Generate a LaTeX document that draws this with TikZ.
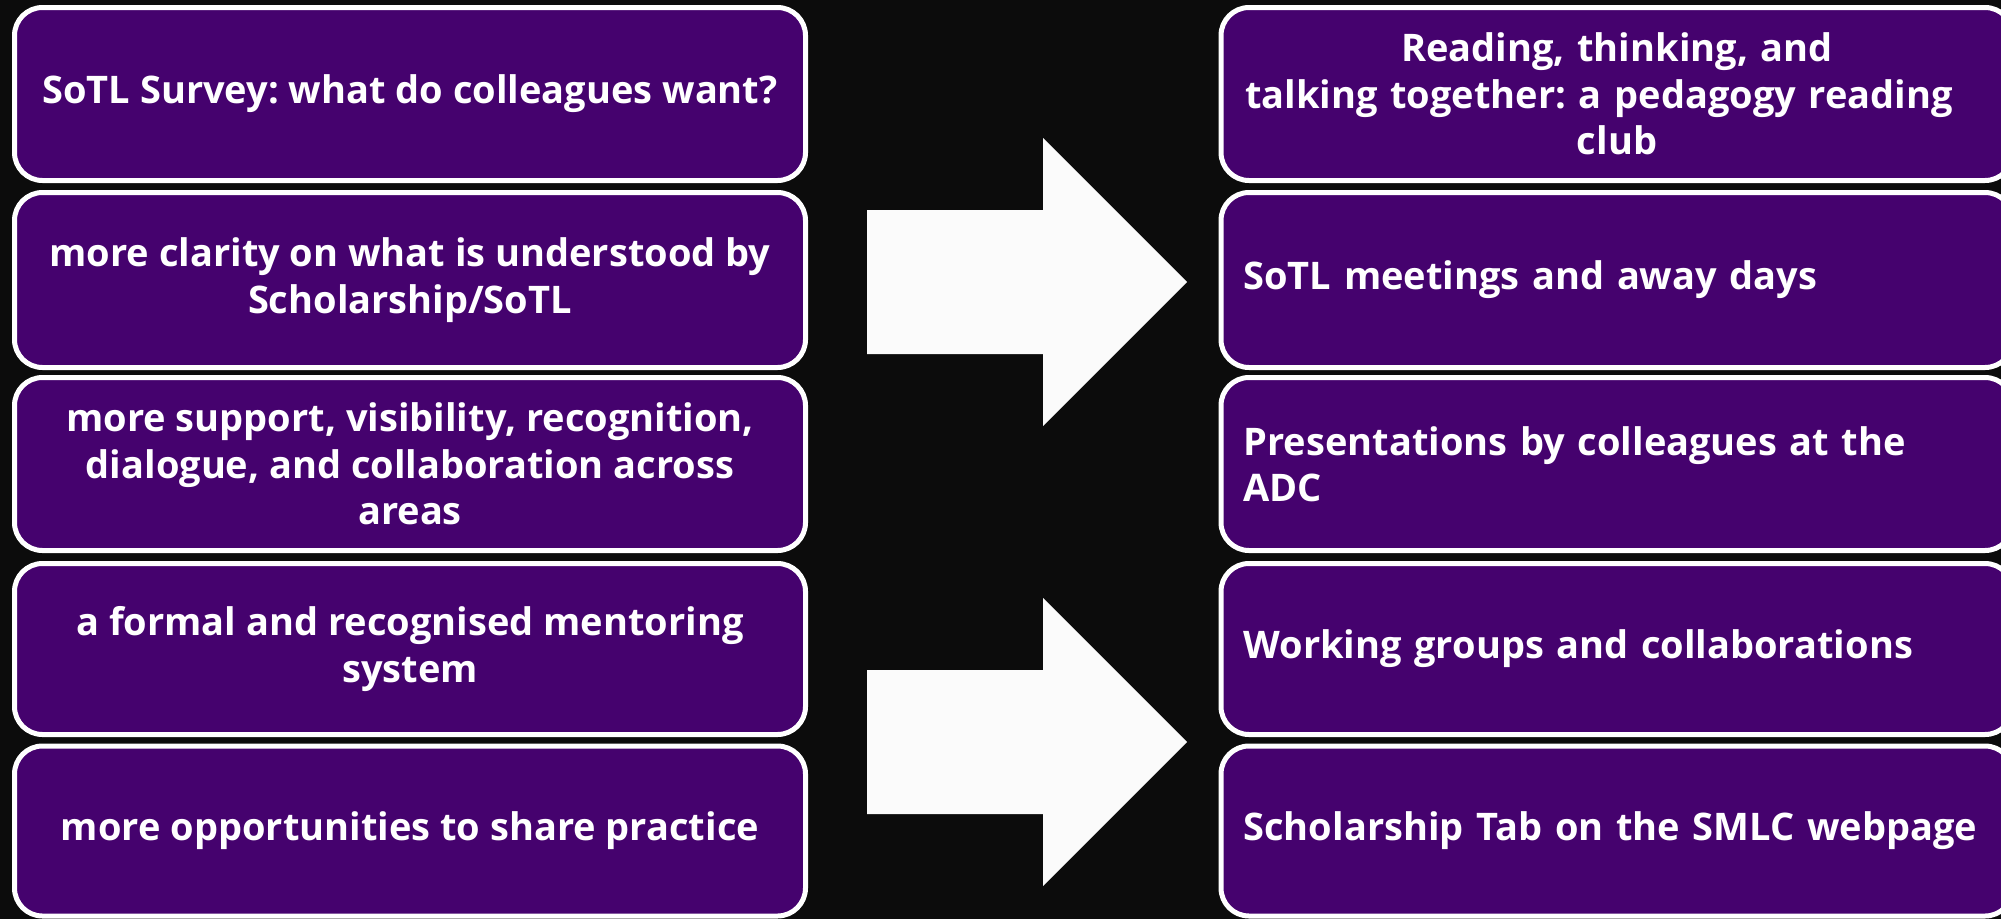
\documentclass[tikz,border=0pt]{standalone}
\usepackage{fontspec}
\setmainfont{Open Sans}
\frenchspacing
\definecolor{bgc}{HTML}{0C0C0C}
\definecolor{boxc}{HTML}{45026E}
\definecolor{arrc}{HTML}{FBFBFB}
\tikzset{
  box/.style={rectangle, rounded corners=28pt, draw=white, line width=5pt, fill=boxc,
    text=white, font=\fontsize{38}{46.5}\selectfont\bfseries\frenchspacing, inner sep=0pt},
  leftbox/.style={box, minimum width=791pt, align=center},
  rightbox/.style={box, minimum width=792pt, text width=747pt, align=left},
  rightcbox/.style={box, minimum width=792pt, text width=747pt, align=center},
  blockarrow/.style={fill=arrc},
}
\begin{document}
\begin{tikzpicture}[x=1pt,y=-1pt]
\useasboundingbox (0,0) rectangle (2001,919);
\fill[bgc] (0,0) rectangle (2001,919);
% left column
\node[leftbox, minimum height=173pt] (l1) at (410,94) {SoTL Survey: what do colleagues want?};
\node[leftbox, minimum height=175pt] (l2) at (410,280) {more clarity on what is understood by\\Scholarship/SoTL};
\node[leftbox, minimum height=173pt] (l3) at (410,464) {more support, visibility, recognition,\\dialogue, and collaboration across\\areas};
\node[leftbox, minimum height=171pt] (l4) at (410,649) {a formal and recognised mentoring\\system};
\node[leftbox, minimum height=170pt] (l5) at (410,831) {more opportunities to share practice};
% right column
\node[rightcbox, minimum height=173pt] (r1) at (1617,94) {Reading, thinking, and\\talking together: a pedagogy reading\hbox to 36pt{}\\club};
\node[rightbox, minimum height=175pt] (r2) at (1617,280) {SoTL meetings and away days};
\node[rightbox, minimum height=173pt] (r3) at (1617,464) {Presentations by colleagues at the\\ADC};
\node[rightbox, minimum height=171pt] (r4) at (1617,649) {Working groups and collaborations};
\node[rightbox, minimum height=170pt] (r5) at (1617,831) {Scholarship Tab on the SMLC webpage};
% block arrows
\fill[blockarrow] (867,210) -- (1043,210) -- (1043,138) -- (1187,282) -- (1043,426) -- (1043,354) -- (867,354) -- cycle;
\fill[blockarrow] (867,670) -- (1043,670) -- (1043,598) -- (1187,742) -- (1043,886) -- (1043,814) -- (867,814) -- cycle;
\end{tikzpicture}
\end{document}
